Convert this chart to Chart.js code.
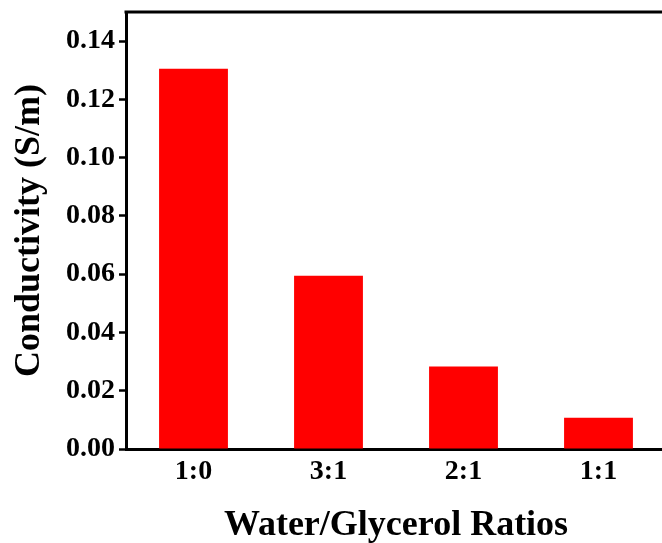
<!DOCTYPE html>
<html>
<head>
<meta charset="utf-8">
<script src="https://cdn.jsdelivr.net/npm/chart.js@4"></script>
<style>
  html, body { margin: 0; padding: 0; background: #fff; overflow: hidden; }
  #wrap { width: 670px; height: 543px; }
</style>
</head>
<body>
<div id="wrap"><canvas id="chart" width="670" height="543"></canvas></div>
<script>
const ratios = ["1:0", "3:1", "2:1", "1:1"];
const conductivity = [0.1305, 0.0595, 0.0283, 0.0107];
const yMax = 0.15;

const serif = "'Liberation Serif', 'Times New Roman', serif";

// top frame line, like the original plot box
const topBorder = {
  id: "topBorder",
  afterDraw(chart) {
    const { ctx, chartArea } = chart;
    ctx.save();
    ctx.strokeStyle = "#000";
    ctx.lineWidth = 3;
    ctx.beginPath();
    ctx.moveTo(chartArea.left - 1.5, chartArea.top);
    ctx.lineTo(chartArea.right + 10, chartArea.top);
    ctx.stroke();
    ctx.restore();
  },
};

const ctx = document.getElementById("chart");
new Chart(ctx, {
  type: "bar",
  data: {
    labels: ratios,
    datasets: [
      {
        data: conductivity,
        backgroundColor: "#FF0000",
        barPercentage: 0.51,
        categoryPercentage: 1,
      },
    ],
  },
  options: {
    responsive: false,
    animation: false,
    layout: { padding: { top: 12, right: 4, left: 0, bottom: 0 } },
    plugins: { legend: { display: false }, tooltip: { enabled: false } },
    scales: {
      x: {
        grid: { display: false, drawTicks: false },
        border: { color: "#000", width: 3 },
        ticks: {
          color: "#000",
          padding: 6,
          font: { family: serif, size: 28, weight: "bold" },
        },
        title: {
          display: true,
          text: "Water/Glycerol Ratios",
          color: "#000",
          padding: { top: 14, bottom: -4 },
          font: { family: serif, size: 36, weight: "bold" },
        },
        afterFit: (scale) => { scale.height = 94; },
      },
      y: {
        min: 0,
        max: yMax,
        grid: {
          drawOnChartArea: false,
          drawTicks: true,
          tickLength: 7,
          tickWidth: 2.5,
          tickColor: "#000",
        },
        border: { color: "#000", width: 3 },
        ticks: {
          stepSize: 0.01,
          color: "#000",
          padding: 4,
          font: { family: serif, size: 28, weight: "bold" },
          callback: (v) => {
            const n = Math.round(v * 100);
            return n % 2 === 0 && n <= 14 ? (n / 100).toFixed(2) : "";
          },
        },
        title: {
          display: true,
          text: "Conductivity (S/m)",
          color: "#000",
          padding: { top: 8, bottom: 0 },
          font: { family: serif, size: 36, weight: "bold" },
        },
        afterFit: (scale) => {
          scale.width = 126;
          scale.paddingTop = 0;
          scale.paddingBottom = 0;
        },
      },
    },
  },
  plugins: [topBorder],
});
</script>
</body>
</html>
